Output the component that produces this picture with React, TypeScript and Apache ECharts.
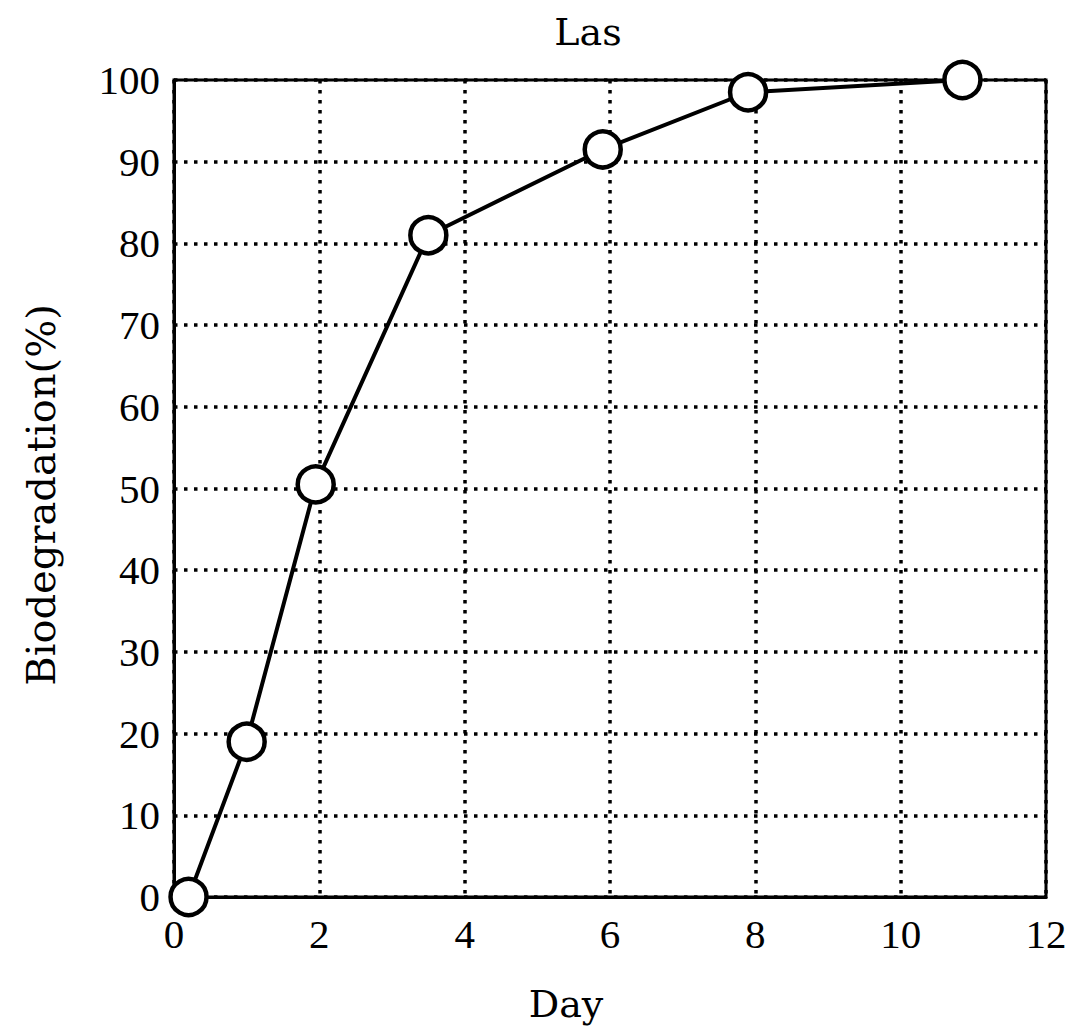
import React, { useEffect, useRef } from "react";
import * as echarts from "echarts";

const days = [0.2, 1.0, 1.95, 3.5, 5.9, 7.9, 10.85];
const biodegradation = [0, 19, 50.5, 81, 91.5, 98.5, 100];
const titleText = "Las";
const xName = "Day";
const yName = "Biodegradation(%)";

export default function App() {
  const ref = useRef<HTMLDivElement>(null);
  useEffect(() => {
    if (!ref.current) return;
    const chart = echarts.init(ref.current, undefined, { renderer: "svg" });
    const tickFont = "Liberation Serif";
    const nameFont = "DejaVu Serif";
    chart.setOption({
      animation: false,
      backgroundColor: "#fff",
      grid: {
        left: 174,
        right: 33,
        top: 80,
        bottom: 137,
        show: true,
        borderColor: "#000",
        borderWidth: 3,
        backgroundColor: "transparent",
      },
      graphic: [
        {
          type: "text",
          x: 588,
          y: 32,
          style: {
            text: titleText,
            font: `38px "${nameFont}"`,
            fill: "#000",
            align: "center",
            verticalAlign: "middle",
          },
        },
        {
          type: "text",
          x: 566,
          y: 1004,
          style: {
            text: xName,
            font: `38px "${nameFont}"`,
            fill: "#000",
            align: "center",
            verticalAlign: "middle",
          },
        },
        {
          type: "text",
          x: 41,
          y: 495,
          rotation: Math.PI / 2,
          style: {
            text: yName,
            font: `40px "${nameFont}"`,
            fill: "#000",
            align: "center",
            verticalAlign: "middle",
          },
        },
      ],
      xAxis: {
        type: "value",
        min: 0,
        max: 12,
        interval: 2,
        axisLine: { show: true, lineStyle: { color: "#000", width: 3 } },
        axisTick: { show: false },
        axisLabel: {
          color: "#000",
          fontFamily: tickFont,
          fontSize: 41,
          margin: 16,
        },
        splitLine: {
          show: true,
          lineStyle: { color: "#000", width: 3.5, type: [3.5, 6.5] },
        },
      },
      yAxis: {
        type: "value",
        min: 0,
        max: 100,
        interval: 10,
        axisLine: { show: true, lineStyle: { color: "#000", width: 3 } },
        axisTick: { show: false },
        axisLabel: {
          color: "#000",
          fontFamily: tickFont,
          fontSize: 41,
          margin: 14,
        },
        splitLine: {
          show: true,
          lineStyle: { color: "#000", width: 3.5, type: [3.5, 6.5] },
        },
      },
      series: [
        {
          type: "line",
          data: days.map((d, i) => [d, biodegradation[i]]),
          clip: false,
          lineStyle: { color: "#000", width: 4 },
          symbol: "circle",
          symbolSize: 36,
          itemStyle: { color: "#fff", borderColor: "#000", borderWidth: 4.5 },
          z: 5,
        },
      ],
    });
    return () => chart.dispose();
  }, []);
  return (
    <div
      ref={ref}
      style={{ width: 1079, height: 1034, position: "absolute", left: 0, top: 0 }}
    />
  );
}
